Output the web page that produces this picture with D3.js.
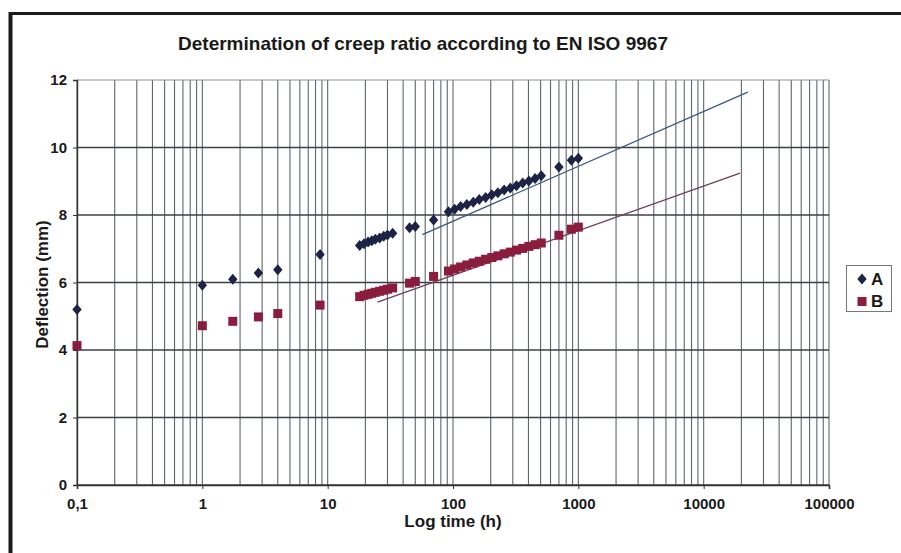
<!DOCTYPE html>
<html>
<head>
<meta charset="utf-8">
<script src="https://cdn.jsdelivr.net/npm/d3@7"></script>
<style>
  body { margin: 0; background: #fff; }
  svg { display: block; font-family: "Liberation Sans", Arial, sans-serif; }
</style>
</head>
<body>
<div id="chart"></div>
<script>
// readings (hours) shared by both samples
const times = [0.1, 1, 1.75, 2.8, 4, 8.7, 18, 19.5, 21, 22.5, 24, 26, 28, 30, 33, 45, 50, 70,
  92, 103, 115, 129, 145, 162, 182, 204, 228, 256, 287, 321, 360, 403, 452, 506, 700, 880, 1000];

const seriesA = [5.2, 5.92, 6.1, 6.28, 6.38, 6.83, 7.1, 7.15, 7.2, 7.24, 7.28, 7.32, 7.37, 7.41, 7.46, 7.62, 7.66, 7.85,
  8.1, 8.17, 8.25, 8.31, 8.38, 8.46, 8.52, 8.6, 8.66, 8.74, 8.8, 8.87, 8.95, 9.01, 9.08, 9.16, 9.42, 9.62, 9.68];

const seriesB = [4.13, 4.72, 4.85, 4.98, 5.08, 5.33, 5.58, 5.62, 5.65, 5.68, 5.71, 5.74, 5.77, 5.8, 5.84, 5.98, 6.03, 6.18,
  6.34, 6.4, 6.46, 6.52, 6.58, 6.63, 6.69, 6.74, 6.79, 6.85, 6.9, 6.96, 7.01, 7.07, 7.12, 7.17, 7.4, 7.58, 7.64];

// extrapolation lines (start / end)
const trendTimesA = [57, 22500];
const trendValuesA = [7.42, 11.64];
const trendTimesB = [25, 19500];
const trendValuesB = [5.42, 9.24];

const xTickValues = [0.1, 1, 10, 100, 1000, 10000, 100000];
const xTickLabels = ["0,1", "1", "10", "100", "1000", "10000", "100000"];
const yTickValues = [0, 2, 4, 6, 8, 10, 12];

const colorA = "#1d2344";
const colorB = "#8a1c3e";

const width = 901, height = 553;
const margin = { top: 80, right: 72, bottom: 68, left: 77 };

const svg = d3.select("#chart").append("svg")
  .attr("width", width)
  .attr("height", height);

const x = d3.scaleLog().domain([0.1, 100000]).range([margin.left, width - margin.right]);
const y = d3.scaleLinear().domain([0, 12]).range([height - margin.bottom, margin.top]);

// outer frame (top + left edge of the scanned page)
svg.append("line").attr("x1", 9).attr("x2", width).attr("y1", 13.5).attr("y2", 13.5)
  .attr("stroke", "#1a1a1a").attr("stroke-width", 3);
svg.append("line").attr("x1", 10.5).attr("x2", 10.5).attr("y1", 12).attr("y2", height)
  .attr("stroke", "#1a1a1a").attr("stroke-width", 4);

// vertical grid (all log minors)
svg.append("g")
  .selectAll("line")
  .data(x.ticks())
  .join("line")
  .attr("x1", d => x(d)).attr("x2", d => x(d))
  .attr("y1", y(12)).attr("y2", y(0))
  .attr("stroke", "#5f6668")
  .attr("stroke-width", 1.1);

// horizontal grid
svg.append("g")
  .selectAll("line")
  .data(yTickValues)
  .join("line")
  .attr("x1", x(0.1)).attr("x2", x(100000))
  .attr("y1", d => y(d)).attr("y2", d => y(d))
  .attr("stroke", d => d === 12 ? "#8a9096" : "#3c4244")
  .attr("stroke-width", d => d === 12 ? 1 : 1.6);

// axes
const xAxis = svg.append("g")
  .attr("transform", `translate(0,${y(0)})`)
  .call(d3.axisBottom(x).tickValues(xTickValues).tickSize(4).tickPadding(9)
    .tickFormat((d, i) => xTickLabels[i]));
xAxis.select(".domain").attr("stroke", "#333").attr("stroke-width", 1.6);

const yAxis = svg.append("g")
  .attr("transform", `translate(${x(0.1)},0)`)
  .call(d3.axisLeft(y).tickValues(yTickValues).tickSize(4).tickPadding(6));
yAxis.select(".domain").attr("stroke", "#333").attr("stroke-width", 1.4);

svg.selectAll(".tick line").attr("stroke", "#333");
svg.selectAll(".tick text")
  .attr("fill", "#1a1a1a")
  .style("font-size", "15px")
  .style("font-weight", "bold")
  .style("font-family", "'Liberation Sans', Arial, sans-serif");

// trend lines
const trendLine = d3.line().x(d => x(d[0])).y(d => y(d[1]));
svg.append("path")
  .attr("d", trendLine(d3.zip(trendTimesA, trendValuesA)))
  .attr("fill", "none").attr("stroke", "#3b5a82").attr("stroke-width", 1.3);
svg.append("path")
  .attr("d", trendLine(d3.zip(trendTimesB, trendValuesB)))
  .attr("fill", "none").attr("stroke", "#6e4258").attr("stroke-width", 1.3);

// markers
const diamond = "M0,-5.5L4.7,0L0,5.5L-4.7,0Z";

svg.append("g")
  .selectAll("path")
  .data(d3.zip(times, seriesA))
  .join("path")
  .attr("d", diamond)
  .attr("transform", d => `translate(${x(d[0])},${y(d[1])})`)
  .attr("fill", colorA);

svg.append("g")
  .selectAll("rect")
  .data(d3.zip(times, seriesB))
  .join("rect")
  .attr("x", d => x(d[0]) - 4.5)
  .attr("y", d => y(d[1]) - 4.5)
  .attr("width", 9).attr("height", 9)
  .attr("fill", colorB);

// titles
svg.append("text")
  .attr("x", 423).attr("y", 50)
  .attr("text-anchor", "middle")
  .style("font-size", "19px").style("font-weight", "bold")
  .attr("fill", "#1a1a1a")
  .text("Determination of creep ratio according to EN ISO 9967");

svg.append("text")
  .attr("x", (x(0.1) + x(100000)) / 2).attr("y", 527)
  .attr("text-anchor", "middle")
  .style("font-size", "17px").style("font-weight", "bold")
  .attr("fill", "#1a1a1a")
  .text("Log time (h)");

svg.append("text")
  .attr("transform", `translate(48,${(y(0) + y(12)) / 2 + 2}) rotate(-90)`)
  .attr("text-anchor", "middle")
  .style("font-size", "17px").style("font-weight", "bold")
  .attr("fill", "#1a1a1a")
  .text("Deflection (mm)");

// legend
const legend = svg.append("g").attr("transform", "translate(846,265)");
legend.append("rect")
  .attr("x", 0.5).attr("y", 0.5).attr("width", 45).attr("height", 46)
  .attr("fill", "#fff").attr("stroke", "#777");
legend.append("path").attr("d", diamond).attr("transform", "translate(16,14)").attr("fill", colorA);
legend.append("rect").attr("x", 11.5).attr("y", 32).attr("width", 9).attr("height", 9).attr("fill", colorB);
legend.selectAll("text.lab")
  .data(["A", "B"])
  .join("text")
  .attr("class", "lab")
  .attr("x", 25).attr("y", (d, i) => 20 + i * 22)
  .style("font-size", "17px").style("font-weight", "bold")
  .attr("fill", "#1a1a1a")
  .text(d => d);
</script>
</body>
</html>
